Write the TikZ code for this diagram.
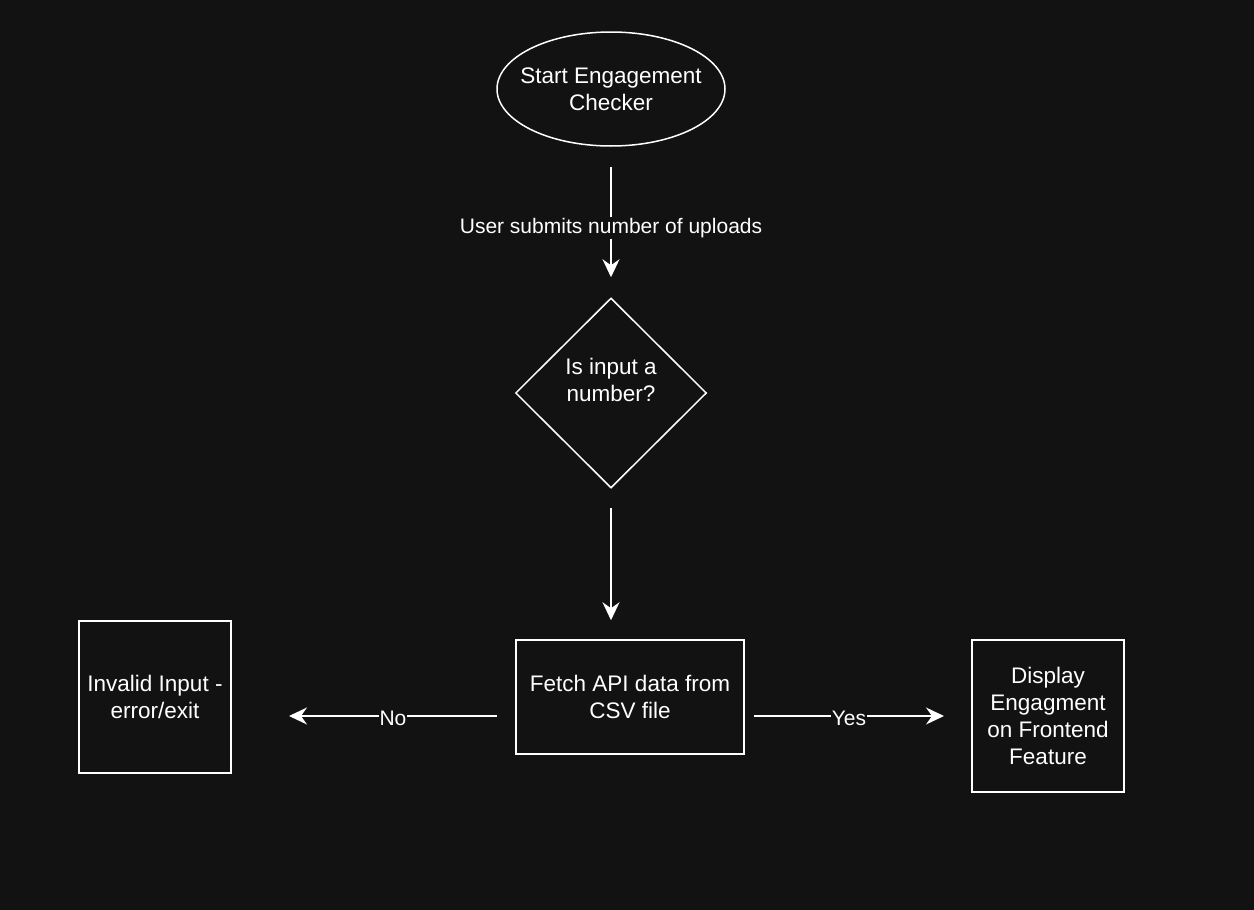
\documentclass[tikz,border=0pt]{standalone}
\usepackage{fontspec}
\setmainfont{Liberation Sans}
\usetikzlibrary{shapes.geometric,arrows.meta}
\definecolor{bg}{HTML}{121212}
\tikzset{
  base/.style={draw=white, line width=1.5pt, text=white, align=center, font=\fontsize{22.5}{27}\selectfont},
  term/.style={base, ellipse, minimum width=228pt, minimum height=114pt, inner sep=0pt},
  boxnode/.style={base, rectangle, inner sep=0pt},
  decide/.style={base, diamond, minimum width=191pt, minimum height=190pt, inner sep=0pt},
  plain/.style={text=white, align=center, inner sep=0pt, font=\fontsize{22.5}{27}\selectfont},
  conn/.style={draw=white, line width=1.5pt, -{Stealth[length=18pt,width=17pt,inset=6pt]}},
  lbl/.style={fill=bg, text=white, inner sep=1pt, font=\fontsize{21}{25}\selectfont}
}
\begin{document}
\begin{tikzpicture}[x=1pt,y=-1pt]
\fill[bg] (0,0) rectangle (1254,910);
\useasboundingbox (0,0) rectangle (1254,910);
\node[term] (start) at (611,89) {};
\node[plain] (starttext) at (611,89) {Start Engagement\\Checker};
\node[decide] (dec) at (611,393) {};
\node[plain] (dectext) at (611,380) {Is input a\\number?};
\node[boxnode, minimum width=228pt, minimum height=114pt] (fetch) at (630,697) {Fetch API data from\\CSV file};
\node[boxnode, minimum width=152pt, minimum height=152pt] (invalid) at (155,697) {Invalid Input -\\error/exit};
\node[boxnode, minimum width=152pt, minimum height=152pt] (display) at (1048,716) {Display\\Engagment\\on Frontend\\Feature};
\coordinate (noS) at (497,716);
\coordinate (noE) at (289,716);
\coordinate (yesS) at (754,716);
\coordinate (yesE) at (944,716);
\draw[conn, shorten <=20pt, shorten >=20pt] (start) -- node[lbl, pos=0.54] {User submits number of uploads} (dec);
\draw[conn, shorten <=19pt, shorten >=19pt] (dec) -- (dec |- fetch.north);
\draw[conn] (noS) -- node[lbl, yshift=-2pt] {No} (noE);
\draw[conn] (yesS) -- node[lbl, yshift=-2pt] {Yes} (yesE);
\end{tikzpicture}
\end{document}
